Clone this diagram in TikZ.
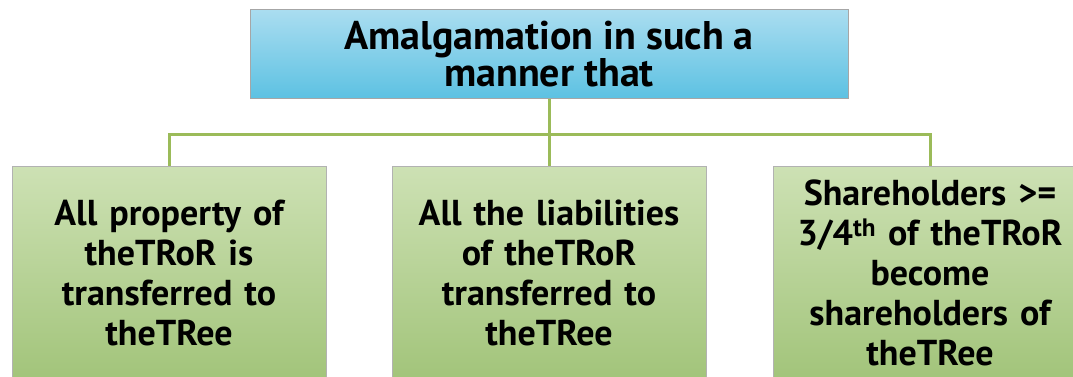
\documentclass[tikz,border=0pt]{standalone}
\usepackage{fontspec}
\setmainfont{PT Sans}
\usetikzlibrary{positioning,calc}
\definecolor{topA}{HTML}{AADDF0}
\definecolor{topB}{HTML}{5CC1E2}
\definecolor{leafA}{HTML}{CDE1B4}
\definecolor{leafB}{HTML}{A2C47A}
\definecolor{linkgreen}{HTML}{9BBB59}
\tikzstyle{headbox}=[draw=gray!70, line width=1pt, top color=topA, bottom color=topB,
  minimum width=598pt, minimum height=89pt, align=center,
  font=\bfseries\fontsize{40}{37}\selectfont]
\tikzstyle{leaf}=[draw=gray!60, line width=1pt, top color=leafA, bottom color=leafB,
  minimum width=314pt, minimum height=214pt, text width=300pt, align=center,
  font=\bfseries\fontsize{36}{40}\selectfont]
\tikzstyle{link}=[linkgreen, line width=3pt]

\begin{document}
\begin{tikzpicture}[x=1pt,y=1pt]
    \useasboundingbox (0,0) rectangle (1073,-377);
    \node (head) [headbox] at (549,-54.5) {Amalgamation in such a\\manner that};
    \node (liab) [leaf] at (549,-273) {All the liabilities\\of theTRoR\\transferred to\\theTRee};
    \node (prop) [left=65pt of liab,leaf] {All property of\\theTRoR is\\transferred to\\theTRee};
    \node (share) [right=66pt of liab,leaf] {Shareholders >=\\3/4\textsuperscript{th} of theTRoR\\become\\shareholders of\\theTRee};
    \coordinate (bus) at ($(head.south)!0.53!(liab.north)$);
    \draw[link] (head.south) -- (liab.north);
    \draw[link] (prop.north) |- (bus) -| (share.north);
\end{tikzpicture}
\end{document}
